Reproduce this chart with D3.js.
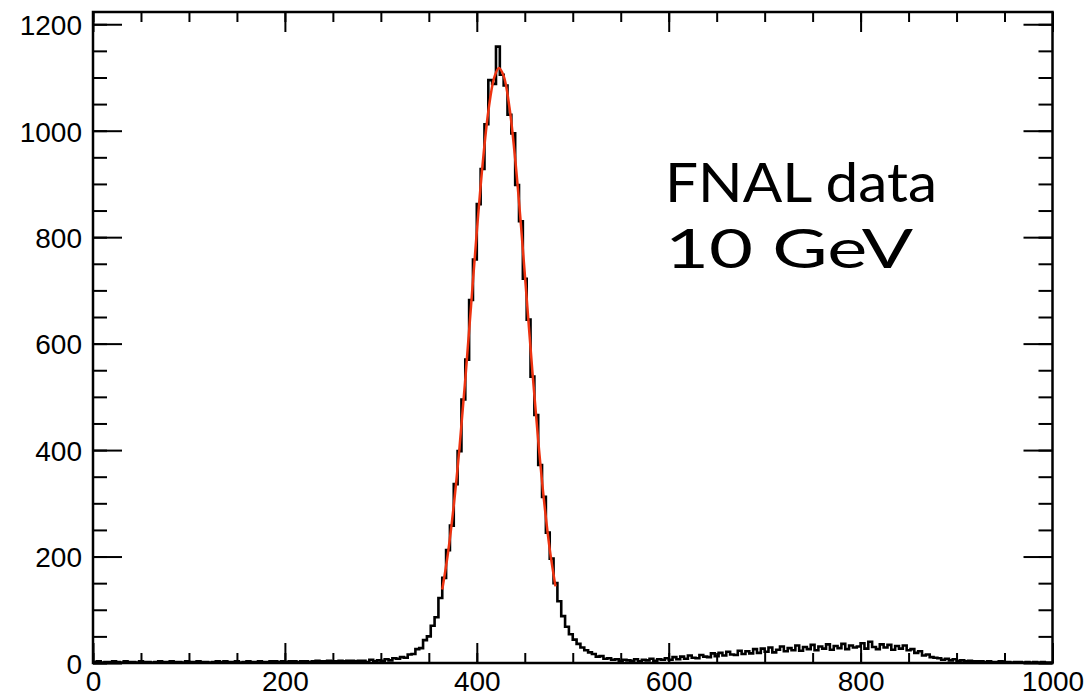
<!DOCTYPE html>
<html>
<head>
<meta charset="utf-8">
<script src="https://cdn.jsdelivr.net/npm/d3@7"></script>
<style>
  body { margin: 0; background: #fff; }
  svg { display: block; }
  .tick text { font-family: "Liberation Sans", Arial, sans-serif; font-size: 28px; fill: #000; }
  .tick line { stroke: #000; stroke-width: 2; }
  .domain { display: none; }
</style>
</head>
<body>
<svg width="1088" height="697"></svg>
<script>
// histogram: 250 bins of width 4, from 0 to 1000
const binWidth = 4;
const counts = [
  2, 3, 1, 2, 2, 3, 2, 1, 3, 2,
  2, 1, 3, 2, 2, 1, 2, 3, 2, 2,
  3, 2, 2, 1, 3, 2, 2, 3, 2, 2,
  1, 2, 3, 2, 3, 2, 2, 3, 1, 2,
  3, 2, 2, 3, 2, 2, 3, 3, 2, 3,
  2, 3, 3, 2, 3, 3, 2, 3, 4, 3,
  3, 4, 3, 3, 4, 3, 4, 4, 3, 4,
  4, 2, 6, 3, 5, 4, 7, 5, 9, 8,
  11, 10, 16, 17, 26, 28, 43, 50, 70, 86,
  122, 160, 212, 258, 336, 398, 495, 570, 682, 758,
  862, 928, 1012, 1095, 1088, 1158, 1105, 1085, 1030, 995,
  898, 830, 722, 645, 538, 466, 372, 312, 245, 196,
  150, 116, 88, 68, 54, 44, 36, 29, 24, 20,
  17, 12, 13, 8, 9, 6, 7, 4, 6, 5,
  4, 7, 3, 6, 5, 8, 4, 7, 6, 9,
  6, 11, 7, 12, 8, 14, 10, 9, 15, 12,
  11, 18, 13, 19, 14, 21, 16, 15, 23, 17,
  22, 18, 26, 19, 27, 21, 29, 20, 25, 31,
  22, 28, 24, 33, 23, 30, 26, 34, 24, 31,
  27, 35, 25, 32, 28, 36, 26, 33, 29, 31,
  37, 27, 40, 30, 26, 35, 29, 34, 25, 32,
  27, 33, 24, 26, 19, 22, 14, 16, 11, 10,
  9, 6, 8, 5, 7, 4, 5, 3, 4, 3,
  3, 3, 2, 3, 2, 2, 3, 2, 2, 1,
  2, 2, 1, 2, 1, 2, 1, 2, 1, 1
];

// gaussian fit
const fitX = [364, 370, 376, 382, 388, 394, 400, 406, 412, 418, 423,
              428, 434, 440, 446, 452, 458, 464, 470, 476, 482];
const fitY = [138, 207, 296, 405, 533, 671, 810, 936, 1036, 1099, 1118,
              1103, 1044, 947, 823, 685, 546, 418, 306, 214, 144];

const xMajor = [0, 200, 400, 600, 800, 1000];
const yMajor = [0, 200, 400, 600, 800, 1000, 1200];
const labelLines = ["FNAL data", "10 GeV"];

const plotLeft = 93, plotRight = 1052.5, plotTop = 12, plotBottom = 663;

const svg = d3.select("svg");

const x = d3.scaleLinear().domain([0, 1000]).range([plotLeft, plotRight]);
const y = d3.scaleLinear().domain([0, 1223]).range([plotBottom, plotTop]);

const xMinor = d3.range(0, 1001, 50);
const yMinor = d3.range(0, 1201, 50);

// step outline of the histogram
let stepPts = [];
counts.forEach((c, i) => {
  stepPts.push([i * binWidth, c]);
  stepPts.push([(i + 1) * binWidth, c]);
});

let line = d3.line()
  .x(d => x(d[0]))
  .y(d => y(d[1]));

svg.append("path")
  .datum(stepPts)
  .attr("fill", "none")
  .attr("stroke", "#000")
  .attr("stroke-width", 2.6)
  .attr("d", line);

let fitLine = d3.line()
  .x(d => x(d[0]))
  .y(d => y(d[1]))
  .curve(d3.curveCatmullRom);

svg.append("path")
  .datum(fitX.map((v, i) => [v, fitY[i]]))
  .attr("fill", "none")
  .attr("stroke", "#ee3311")
  .attr("stroke-width", 2.5)
  .attr("d", fitLine);

// frame
svg.append("rect")
  .attr("x", plotLeft)
  .attr("y", plotTop)
  .attr("width", plotRight - plotLeft)
  .attr("height", plotBottom - plotTop)
  .attr("fill", "none")
  .attr("stroke", "#000")
  .attr("stroke-width", 2.5);

// bottom axis: minor then major with labels
svg.append("g")
  .attr("transform", `translate(0,${plotBottom})`)
  .call(d3.axisBottom(x).tickValues(xMinor).tickSizeInner(-10).tickSizeOuter(0).tickFormat(""));
svg.append("g")
  .attr("transform", `translate(0,${plotBottom})`)
  .call(d3.axisBottom(x).tickValues(xMajor).tickSizeInner(-20).tickSizeOuter(0).tickPadding(8).tickFormat(d3.format("d")));

// top axis, ticks only
svg.append("g")
  .attr("transform", `translate(0,${plotTop})`)
  .call(d3.axisTop(x).tickValues(xMinor).tickSizeInner(-10).tickSizeOuter(0).tickFormat(""));
svg.append("g")
  .attr("transform", `translate(0,${plotTop})`)
  .call(d3.axisTop(x).tickValues(xMajor).tickSizeInner(-20).tickSizeOuter(0).tickFormat(""));

// left axis
svg.append("g")
  .attr("transform", `translate(${plotLeft},0)`)
  .call(d3.axisLeft(y).tickValues(yMinor).tickSizeInner(-14).tickSizeOuter(0).tickFormat(""));
svg.append("g")
  .attr("transform", `translate(${plotLeft},0)`)
  .call(d3.axisLeft(y).tickValues(yMajor).tickSizeInner(-29).tickSizeOuter(0).tickPadding(11).tickFormat(d3.format("d")))
  .selectAll("text")
    .attr("dy", "0.37em");

// right axis, ticks only
svg.append("g")
  .attr("transform", `translate(${plotRight},0)`)
  .call(d3.axisRight(y).tickValues(yMinor).tickSizeInner(-14).tickSizeOuter(0).tickFormat(""));
svg.append("g")
  .attr("transform", `translate(${plotRight},0)`)
  .call(d3.axisRight(y).tickValues(yMajor).tickSizeInner(-29).tickSizeOuter(0).tickFormat(""));

// annotation
const labelWidths = [272, 248];
svg.selectAll("text.note")
  .data(labelLines)
  .enter()
  .append("text")
    .attr("class", "note")
    .attr("x", 665)
    .attr("y", (d, i) => 201.5 + i * 66.5)
    .attr("textLength", (d, i) => labelWidths[i])
    .attr("lengthAdjust", "spacingAndGlyphs")
    .style("font-family", "Lato, 'Open Sans', sans-serif")
    .style("font-size", "54px")
    .style("fill", "#000")
    .text(d => d);
</script>
</body>
</html>
